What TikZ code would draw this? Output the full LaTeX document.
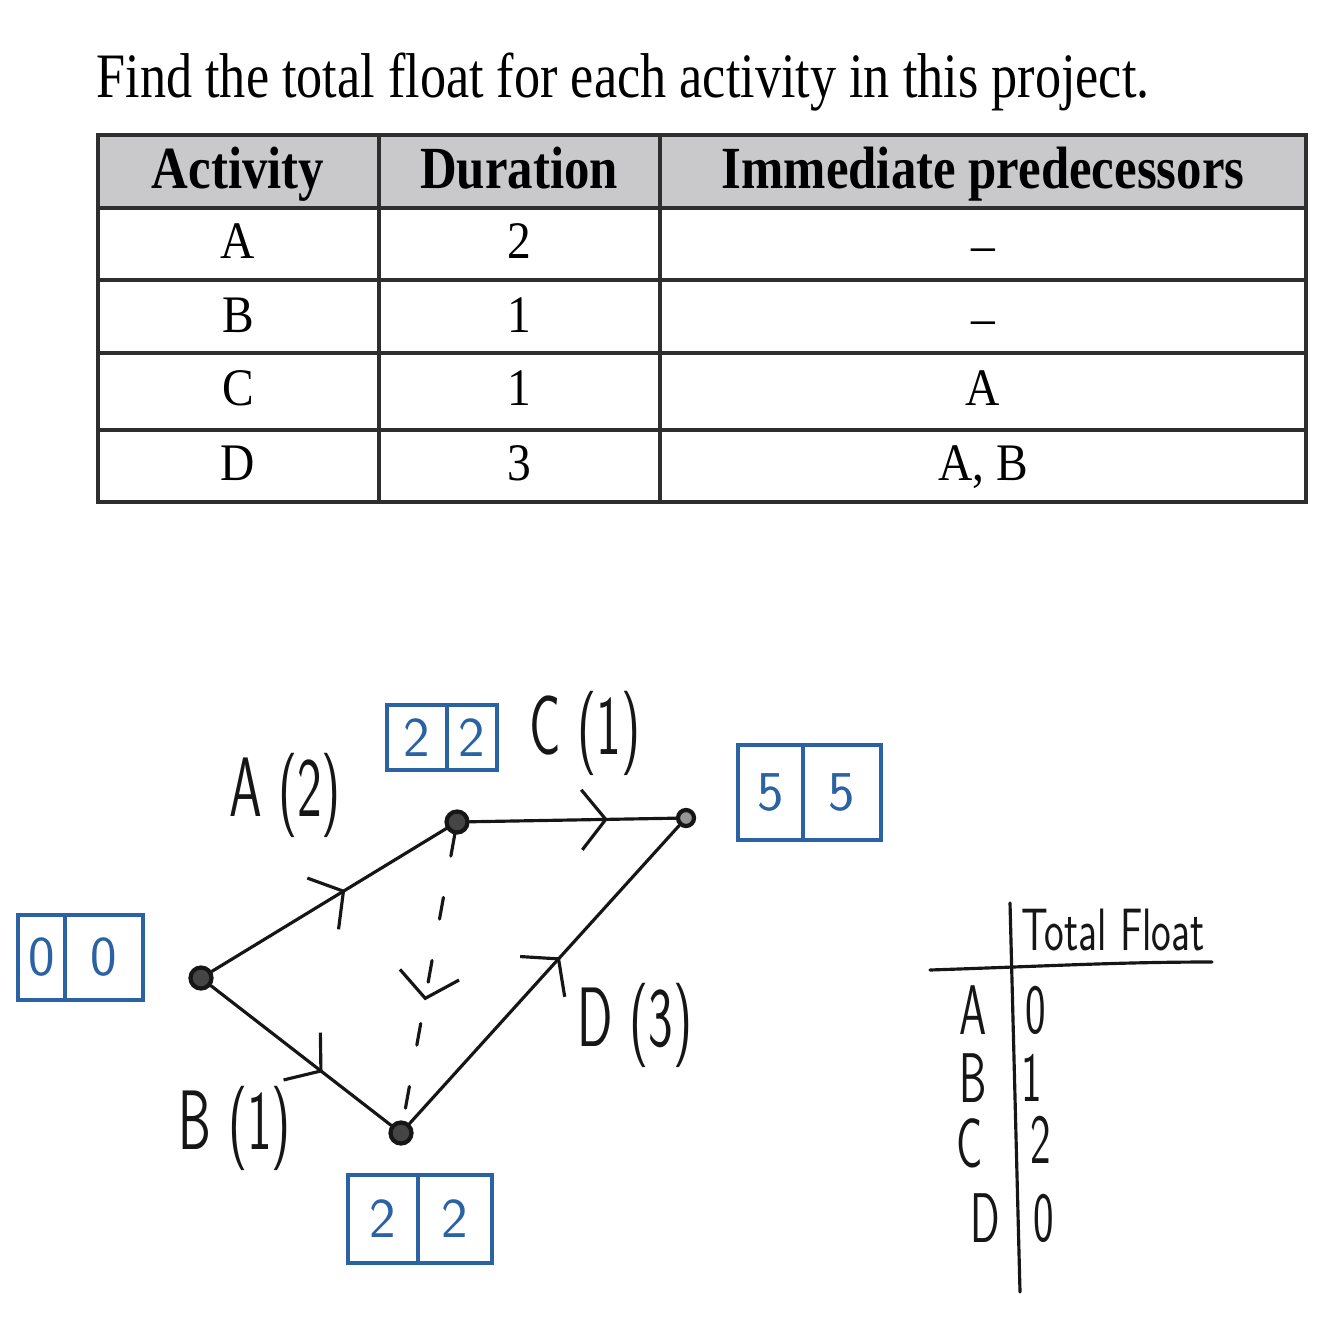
\documentclass[tikz,border=0pt]{standalone}
\usepackage{fontspec}
\setmainfont{Liberation Serif}
\usetikzlibrary{arrows.meta,decorations.markings}
\definecolor{inkblue}{HTML}{2A62A4}
\definecolor{hdrgray}{HTML}{C9C9CB}
\definecolor{ink}{HTML}{161616}
\definecolor{rule}{HTML}{2E2E2E}
\tikzset{
  hand/.style={draw=ink, line width=0.9pt, line cap=round, line join=round},
  midarrow/.style={postaction={decorate}, decoration={markings,
     mark=at position #1 with {\arrow[ink]{Straight Barb[length=2.4mm,width=6mm,line width=0.9pt]}}}},
  vertex/.style={circle, draw=ink, fill=ink!80, line width=1.2pt, inner sep=0pt, minimum size=0.21cm},
  bcell/.style={draw=inkblue, line width=1.1pt, inner sep=0pt, text=inkblue,
     font=\sffamily\fontsize{16}{16}\selectfont},
  hw/.style={font=\sffamily\fontsize{24}{24}\selectfont, xscale=0.62, inner sep=0pt, text=ink},
  hwrow/.style={font=\sffamily\fontsize{20}{20}\selectfont, xscale=0.62, inner sep=0pt, text=ink},
  hwsmall/.style={font=\sffamily\fontsize{17}{17}\selectfont, xscale=0.7, inner sep=0pt, text=ink},
  cell/.style={font=\fontsize{15}{15}\selectfont, inner sep=0pt, xscale=0.9, anchor=base},
  hcell/.style={font=\bfseries\fontsize{17}{17}\selectfont, inner sep=0pt, xscale=0.85, anchor=base},
}
\begin{document}
\begin{tikzpicture}[x=0.01cm,y=-0.01cm]
\useasboundingbox (0,0) rectangle (1334,1334);
% title
\node[font=\fontsize{18}{20}\selectfont, xscale=0.825, inner sep=0pt, anchor=base] (title) at (623,98) {Find the total float for each activity in this project.};
% table
\fill[hdrgray] (98,135) rectangle (1306,208);
\draw[rule, line width=1.3pt] (98,135) rectangle (1306,502);
\foreach \yy in {208,280,353,430} \draw[rule, line width=1.3pt] (98,\yy) -- (1306,\yy);
\foreach \xx in {379,660} \draw[rule, line width=1.3pt] (\xx,135) -- (\xx,502);
\node[hcell] (h1) at (238,189) {Activity};
\node[hcell] (h2) at (519,189) {Duration};
\node[hcell] (h3) at (983,189) {Immediate predecessors};
\node[cell] (a1) at (238,259) {A};
\node[cell] (a2) at (519,259) {2};
\node[cell] (a3) at (983,263) {–};
\node[cell] (b1) at (238,333) {B};
\node[cell] (b2) at (519,333) {1};
\node[cell] (b3) at (983,336) {–};
\node[cell] (c1) at (238,406) {C};
\node[cell] (c2) at (519,406) {1};
\node[cell] (c3) at (983,406) {A};
\node[cell] (d1) at (238,481) {D};
\node[cell] (d2) at (519,481) {3};
\node[cell] (d3) at (983,481) {A, B};
% network
\node[vertex] (S) at (201,978) {};
\node[vertex] (T) at (457,822) {};
\node[vertex] (U) at (401,1133) {};
\node[vertex, fill=ink!45, minimum size=0.16cm] (E) at (686,818) {};
\draw[hand, midarrow=0.57] (S) -- (T);
\draw[hand, midarrow=0.62] (S) -- (U);
\draw[hand, midarrow=0.67] (T) -- (E);
\draw[hand, midarrow=0.56] (U) -- (E);
\draw[hand, dash pattern=on 0.22cm off 0.42cm, midarrow=0.58] (T) -- (U);
% activity labels
\node[hw] (lA) at (285,795) {A (2)};
\node[hw] (lB) at (235,1128) {B (1)};
\node[hw] (lC) at (585,733) {C (1)};
\node[hw] (lD) at (635,1025) {D (3)};
% blue boxes
\node[bcell, minimum width=0.47cm, minimum height=0.85cm] (s1) at (41.5,957.5) {0};
\node[bcell, minimum width=0.78cm, minimum height=0.85cm] (s2) at (104,957.5) {0};
\node[bcell, minimum width=0.60cm, minimum height=0.65cm] (t1) at (417,737.5) {2};
\node[bcell, minimum width=0.50cm, minimum height=0.65cm] (t2) at (472,737.5) {2};
\node[bcell, minimum width=0.65cm, minimum height=0.95cm] (e1) at (770.5,792.5) {5};
\node[bcell, minimum width=0.78cm, minimum height=0.95cm] (e2) at (842,792.5) {5};
\node[bcell, minimum width=0.70cm, minimum height=0.88cm] (u1) at (383,1219) {2};
\node[bcell, minimum width=0.74cm, minimum height=0.88cm] (u2) at (455,1219) {2};
% total float table
\draw[hand] (1010,903) -- (1020,1292);
\draw[hand] (930,970) .. controls (1050,966) and (1120,962) .. (1212,962);
\node[hwsmall] (tf) at (1113,930) {Total Float};
\node[hwrow] (rA) at (973,1010) {A};
\node[hwrow] (vA) at (1036,1010) {0};
\node[hwrow] (rB) at (973,1078) {B};
\node[hwrow] (vB) at (1032,1078) {1};
\node[hwrow] (rC) at (970,1143) {C};
\node[hwrow] (vC) at (1041,1140) {2};
\node[hwrow] (rD) at (985,1218) {D};
\node[hwrow] (vD) at (1044,1218) {0};
\end{tikzpicture}
\end{document}
